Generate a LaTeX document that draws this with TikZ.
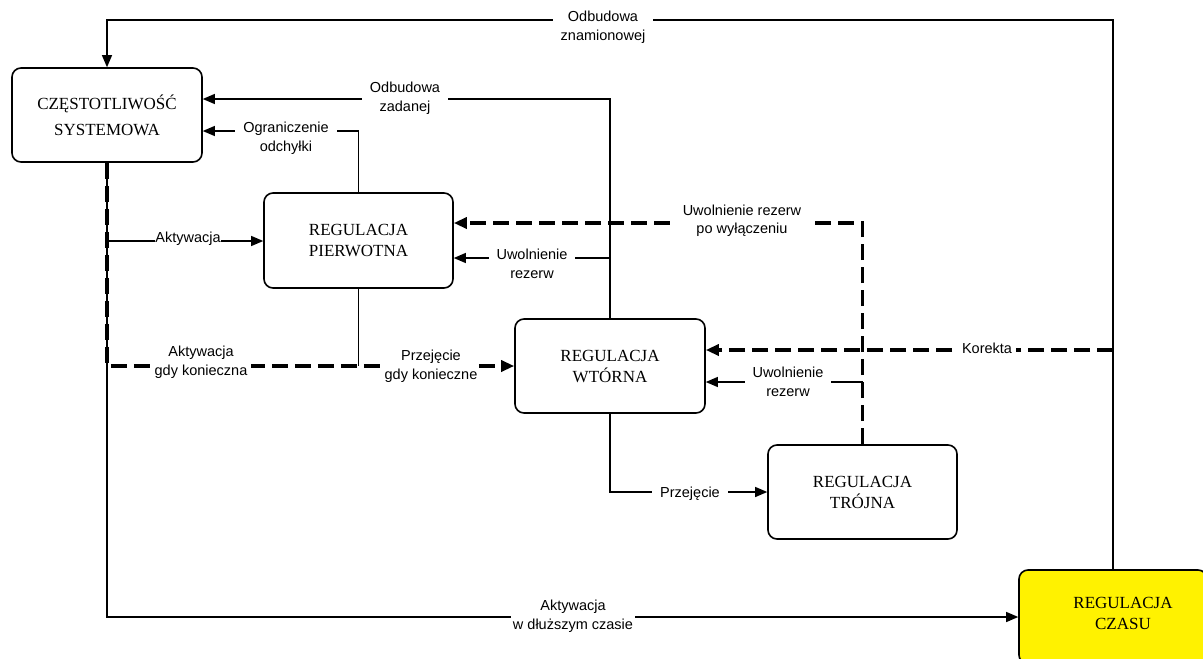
\documentclass[tikz,border=0pt]{standalone}
\usepackage{fontspec}
\setmainfont{Liberation Serif}
\newfontfamily\labelfont{Liberation Sans}
\usetikzlibrary{arrows.meta}
\begin{document}
\begin{tikzpicture}[x=1pt,y=-1pt,
  box/.style={draw, line width=1.6pt, rounded corners=9pt, align=center,
    font=\fontsize{17}{21}\selectfont, inner sep=0pt},
  boxtext/.style={align=center, font=\fontsize{17}{21}\selectfont, inner sep=0pt},
  conn/.style={line width=1.2pt},
  arr/.style={conn, -{Triangle[length=12pt,width=10pt]}},
  dashline/.style={line width=3.2pt, dash pattern=on 16pt off 7pt},
  darr/.style={dashline, -{Triangle[length=13pt,width=11pt]}},
  lbl/.style={fill=white, align=center, font=\labelfont\fontsize{14.5}{18.5}\selectfont,
    inner xsep=8pt, inner ysep=1pt},
]
\useasboundingbox (0,0) rectangle (1203,659);
\clip (0,0) rectangle (1203,659);

% blocks
\node[box, minimum width=190pt, minimum height=94pt] (czest) at (107,115)
  {CZĘSTOTLIWOŚĆ\\[5pt]SYSTEMOWA};
\node[box, minimum width=189pt, minimum height=95pt] (pierw) at (358.5,240.5)
  {REGULACJA\\PIERWOTNA};
\node[box, minimum width=190pt, minimum height=94pt] (wtor) at (610,366)
  {REGULACJA\\WTÓRNA};
\node[box, minimum width=189pt, minimum height=94pt] (troj) at (862.5,492)
  {REGULACJA\\TRÓJNA};
\node[box, fill=yellow, minimum width=188pt, minimum height=94pt] (czasu) at (1113,617) {};
\node[boxtext] (czasuT) at (1123,613) {REGULACJA\\CZASU};

% helper points of the outer loop
\coordinate (topR) at (1113,20);
\coordinate (topL) at (107,20);

% solid connectors
\draw[arr] (czasu.north -| topR) -- (topR) -- (topL) -- (czest.north);
\draw[arr] (wtor.north) |- (czest.east |- 0,99);
\draw[arr] (wtor.north |- 0,258) -- (pierw.east |- 0,258);
\draw[arr] (pierw.north) |- (czest.east |- 0,131);
\draw[arr] (czest.south |- 0,241) -- (pierw.west |- 0,241);
\draw[arr] (czest.south) |- (czasu.west);
\draw[conn] (pierw.south) -- (pierw.south |- wtor.west);
\draw[arr] (wtor.south) |- (troj.west);
\draw[arr] (troj.north |- 0,382) -- (wtor.east |- 0,382);

% dashed connectors
\draw[darr] (czest.south) |- (wtor.west);
\draw[darr] (troj.north) |- (pierw.east |- 0,223);
\draw[darr] (topR |- 0,350) -- (wtor.east |- 0,350);

% connector labels
\node[lbl] (l1) at (603,27) {Odbudowa\\znamionowej};
\node[lbl] (l2) at (405,98) {Odbudowa\\zadanej};
\node[lbl] (l3) at (286,138) {Ograniczenie\\odchyłki};
\node[lbl, inner sep=0pt] (l4) at (188,239) {Aktywacja};
\node[lbl, inner xsep=4pt] (l5) at (201,362) {Aktywacja\\gdy konieczna};
\node[lbl, inner xsep=1pt] (l6) at (431,366) {Przejęcie\\gdy konieczne};
\node[lbl] (l7) at (532,264) {Uwolnienie\\rezerw};
\node[lbl] (l8) at (742,221) {Uwolnienie rezerw\\po wyłączeniu};
\node[lbl, inner xsep=4pt] (l9) at (987,348) {Korekta};
\node[lbl] (l10) at (788,382) {Uwolnienie\\rezerw};
\node[lbl] (l11) at (690,494) {Przejęcie};
\node[lbl, inner xsep=2pt] (l12) at (573,616) {Aktywacja\\w dłuższym czasie};
\end{tikzpicture}
\end{document}
